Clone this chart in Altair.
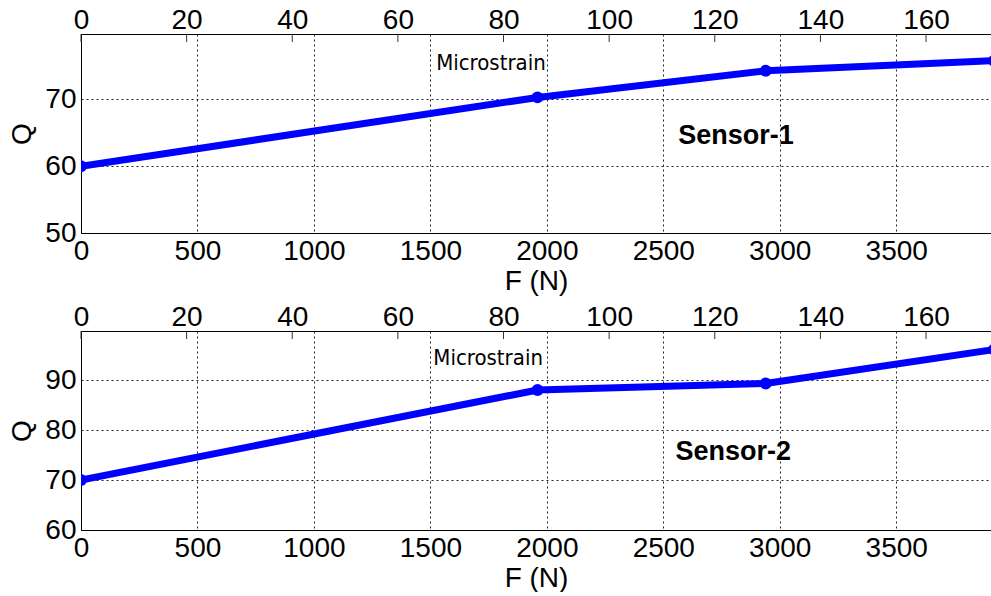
import altair as alt
import pandas as pd

# ---- data ----
force_n = [0, 1960, 2940, 3920]
q_sensor1 = [60.0, 70.3, 74.3, 75.8]
q_sensor2 = [70.0, 88.0, 89.3, 96.1]

f_ticks = [0, 500, 1000, 1500, 2000, 2500, 3000, 3500]
micro_ticks = [0, 20, 40, 60, 80, 100, 120, 140, 160]
q1_ticks = [50, 60, 70]
q2_ticks = [60, 70, 80, 90]

F_DOMAIN = [0, 3907]
MICRO_DOMAIN = [0, 172.3]
Q1_DOMAIN = [50, 79.8]
Q2_DOMAIN = [60, 99.8]

# annotations: (text, F, Q)
ann1_micro = ("Microstrain", 1760, 75.4)
ann1_sensor = ("Sensor-1", 2812, 64.5)
ann2_micro = ("Microstrain", 1748, 94.4)
ann2_sensor = ("Sensor-2", 2800, 75.7)

FONT = "Liberation Sans, Arial, sans-serif"
NARROW = "Liberation Sans Narrow, Arial Narrow, DejaVu Sans Condensed, sans-serif"
BLUE = "#0000ff"
W = 910


def panel(qvals, ydom, yticks, micro_ann, sensor_ann, h):
    df = pd.DataFrame({"F": force_n, "Q": qvals})
    xs = alt.Scale(domain=F_DOMAIN, nice=False, zero=False)
    ys = alt.Scale(domain=ydom, nice=False, zero=False)
    xaxis = alt.Axis(
        title="F (N)", values=f_ticks, format="d", grid=True, gridDash=[2, 3],
        gridColor="#222", gridWidth=1, domain=True, domainColor="black", ticks=False,
        labelFlush=False, labelOverlap=False, labelFontSize=28, titleFontSize=28,
        labelFont=FONT, titleFont=FONT, titleFontWeight="normal", labelColor="black",
        titleColor="black", labelPadding=4, titlePadding=2,
    )
    yaxis = alt.Axis(
        title="Q", values=yticks, format="d", grid=True, gridDash=[2, 3], gridColor="#222",
        gridWidth=1, domain=True, domainColor="black", ticks=False, labelFlush=False,
        labelOverlap=False, labelFontSize=28, titleFontSize=28, labelFont=FONT,
        titleFont=FONT, titleFontWeight="normal", labelColor="black", titleColor="black",
        labelPadding=5, titlePadding=8,
    )
    base = alt.Chart(df).encode(
        x=alt.X("F:Q", scale=xs, axis=xaxis),
        y=alt.Y("Q:Q", scale=ys, axis=yaxis),
    )
    line = base.mark_line(color=BLUE, strokeWidth=7, clip=True)
    pts = base.mark_circle(color=BLUE, size=140, opacity=1, clip=True)

    adf = pd.DataFrame({"t": [micro_ann[0]], "F": [micro_ann[1]], "Q": [micro_ann[2]]})
    micro_txt = alt.Chart(adf).mark_text(
        font=NARROW, fontSize=22, color="black", align="center", baseline="middle"
    ).encode(x=alt.X("F:Q", scale=xs), y=alt.Y("Q:Q", scale=ys), text="t:N")

    sdf = pd.DataFrame({"t": [sensor_ann[0]], "F": [sensor_ann[1]], "Q": [sensor_ann[2]]})
    sens_txt = alt.Chart(sdf).mark_text(
        font=FONT, fontSize=27, fontWeight="bold", color="black", align="center",
        baseline="middle"
    ).encode(x=alt.X("F:Q", scale=xs), y=alt.Y("Q:Q", scale=ys), text="t:N")

    main = alt.layer(line, pts, micro_txt, sens_txt)

    tdf = pd.DataFrame({"m": micro_ticks})
    top = alt.Chart(tdf).mark_rule(color="#333", strokeWidth=1).encode(
        x=alt.X(
            "m:Q",
            scale=alt.Scale(domain=MICRO_DOMAIN, nice=False, zero=False),
            axis=alt.Axis(
                orient="top", title=None, values=micro_ticks, format="d", grid=False,
                ticks=False, domain=True, domainColor="black", labelFlush=False,
                labelOverlap=False, labelFontSize=28, labelFont=FONT, labelColor="black",
                labelPadding=0,
            ),
        ),
        y=alt.value(0),
        y2=alt.value(8),
    )
    return alt.layer(main, top).resolve_scale(x="independent").properties(width=W, height=h)


p1 = panel(q_sensor1, Q1_DOMAIN, q1_ticks, ann1_micro, ann1_sensor, 199)
p2 = panel(q_sensor2, Q2_DOMAIN, q2_ticks, ann2_micro, ann2_sensor, 199)

chart = alt.vconcat(p1, p2, spacing=8).properties(
    padding={"left": 8, "top": 6, "right": 0, "bottom": 0},
    background="white",
).configure_view(stroke=None)

chart.save("out.html", embed_options={"renderer": "svg", "actions": False})
